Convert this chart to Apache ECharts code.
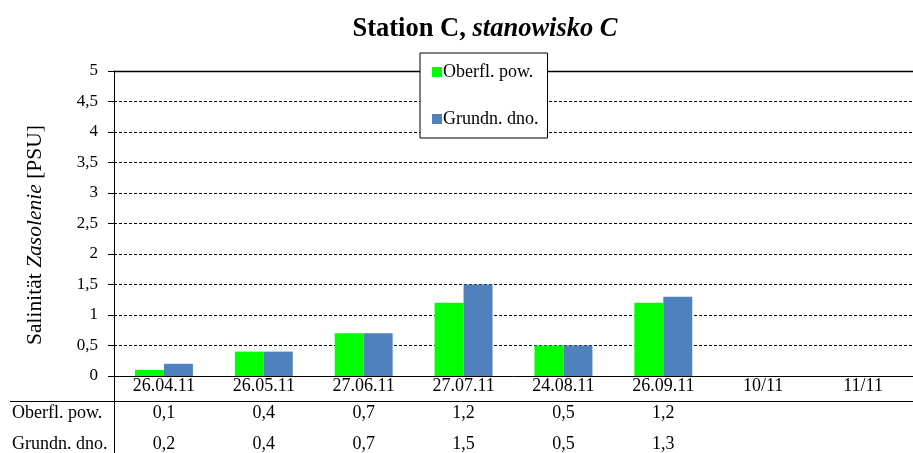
<!DOCTYPE html>
<html><head><meta charset="utf-8">
<script src="https://cdn.jsdelivr.net/npm/echarts@6/dist/echarts.min.js"></script>
<style>html,body{margin:0;padding:0;background:#fff}#c{width:913px;height:453px}</style>
</head><body><div id="c"></div>
<script>
const categories = ['26.04.11','26.05.11','27.06.11','27.07.11','24.08.11','26.09.11','10/11','11/11'];
const surface = [0.1, 0.4, 0.7, 1.2, 0.5, 1.2, null, null];
const bottom = [0.2, 0.4, 0.7, 1.5, 0.5, 1.3, null, null];
const seriesNames = ['Oberfl. pow.', 'Grundn. dno.'];

const F = '"Liberation Serif", "Times New Roman", serif';
const FS = 18;
const fmt = v => (v === null || v === undefined) ? '' : String(v).replace('.', ',');
const chart = echarts.init(document.getElementById('c'));
const L = 114, T = 71, B = 377;
chart.setOption({
  animation: false,
  title: {
    text: '{b|Station C, }{bi|stanowisko C}',
    left: 480, top: 11, textAlign: 'center',
    textStyle: { rich: {
      b: { fontFamily: F, fontWeight: 'bold', fontSize: 26.5, color: '#000' },
      bi: { fontFamily: F, fontWeight: 'bold', fontStyle: 'italic', fontSize: 26.5, color: '#000' }
    } }
  },
  legend: {
    orient: 'vertical', left: 420, top: 53,
    backgroundColor: '#fff', borderColor: '#000', borderWidth: 1,
    padding: [10, 9, 10, 12], itemGap: 29, itemWidth: 10, itemHeight: 10,
    icon: 'rect',
    textStyle: { fontFamily: F, fontSize: FS, color: '#000', padding: [0, 0, 0, -4] },
    data: seriesNames
  },
  grid: { left: L, right: 0, top: T, bottom: 453 - B, containLabel: false },
  xAxis: [{
    type: 'category', data: categories,
    axisLine: { lineStyle: { color: '#000', width: 1 } },
    axisTick: { show: false },
    axisLabel: { fontFamily: F, fontSize: FS, color: '#000', margin: 1 }
  }, {
    type: 'category', data: categories, position: 'bottom', offset: 27,
    axisLine: { show: false }, axisTick: { show: false },
    axisLabel: { fontFamily: F, fontSize: FS, color: '#000', margin: 1,
      formatter: (v, i) => fmt(surface[i]) }
  }, {
    type: 'category', data: categories, position: 'bottom', offset: 58,
    axisLine: { show: false }, axisTick: { show: false },
    axisLabel: { fontFamily: F, fontSize: FS, color: '#000', margin: 1,
      formatter: (v, i) => fmt(bottom[i]) }
  }],
  yAxis: {
    type: 'value', min: 0, max: 5, interval: 0.5,
    axisLine: { show: true, lineStyle: { color: '#000', width: 1 } },
    axisTick: { show: true, length: 6, lineStyle: { color: '#000' } },
    axisLabel: { fontFamily: F, fontSize: 17, color: '#000', margin: 16, formatter: v => fmt(v) },
    splitLine: { show: true, lineStyle: { color: '#000', type: [3, 2], width: 1 } }
  },
  series: [{
    name: seriesNames[0], type: 'bar', data: surface, barWidth: '29%', barGap: '0%',
    itemStyle: { color: '#00ff00' }
  }, {
    name: seriesNames[1], type: 'bar', data: bottom, barWidth: '29%',
    itemStyle: { color: '#4f81bd' }
  }],
  graphic: [
    { type: 'line', shape: { x1: 10, y1: 401.5, x2: 913, y2: 401.5 }, style: { stroke: '#000', lineWidth: 1 } },
    { type: 'line', shape: { x1: L + 0.5, y1: B, x2: L + 0.5, y2: 453 }, style: { stroke: '#000', lineWidth: 1 } },
    { type: 'line', shape: { x1: L, y1: T + 0.5, x2: 913, y2: T + 0.5 }, style: { stroke: '#000', lineWidth: 1.5 } },
    { type: 'text', x: 12, y: 413, style: { text: seriesNames[0], font: FS + 'px ' + F, fill: '#000', verticalAlign: 'middle' } },
    { type: 'text', x: 12, y: 444, style: { text: seriesNames[1], font: FS + 'px ' + F, fill: '#000', verticalAlign: 'middle' } },
    { type: 'text', x: 35, y: 235, rotation: Math.PI / 2,
      style: { text: '{n|Salinität }{i|Zasolenie}{n| [PSU]}', align: 'center', verticalAlign: 'middle',
        rich: {
          n: { fontFamily: F, fontSize: 21.5, fill: '#000' },
          i: { fontFamily: F, fontSize: 21.5, fontStyle: 'italic', fill: '#000' }
        } } }
  ]
});
</script></body></html>
